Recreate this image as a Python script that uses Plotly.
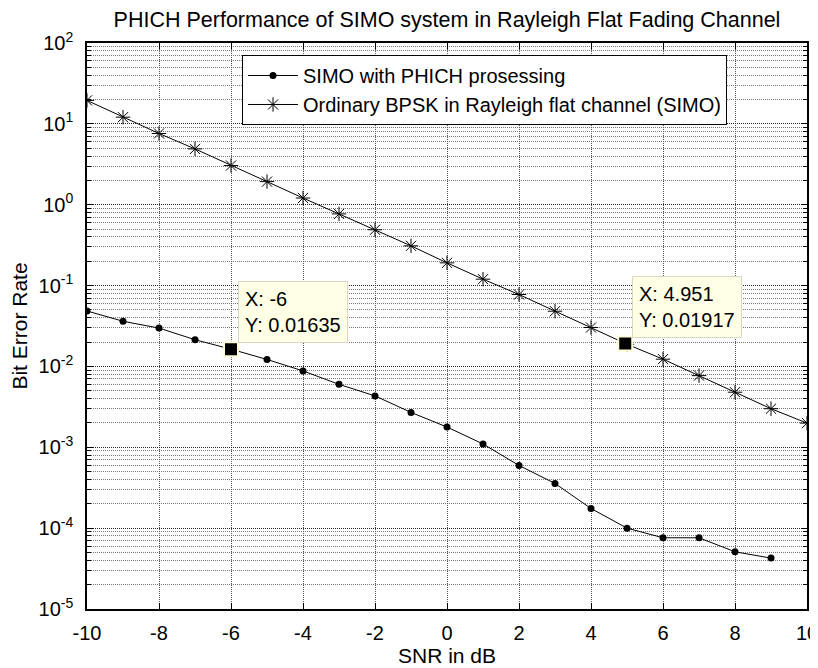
import math
import plotly.graph_objects as go

# ---- data ----
snr_phich = [-10, -9, -8, -7, -6, -5, -4, -3, -2, -1, 0, 1, 2, 3, 4, 5, 6, 7, 8, 9]
ber_phich = [0.0485, 0.0362, 0.0298, 0.0214, 0.01635, 0.0122, 0.0088, 0.0060, 0.00432, 0.00270,
             0.00178, 0.00110, 0.000596, 0.000357, 0.000175, 0.000100, 0.0000760, 0.0000760,
             0.0000510, 0.0000426]

snr_bpsk = [-10, -9, -8, -7, -6, -5, -4, -3, -2, -1, 0, 1, 2, 3, 4, 5, 6, 7, 8, 9, 10]
ber_bpsk = [19.5, 12.1, 7.6, 4.9, 3.05, 1.93, 1.21, 0.77, 0.49, 0.31, 0.191, 0.120, 0.0775,
            0.0482, 0.0303, 0.0188, 0.0123, 0.0077, 0.0048, 0.0030, 0.00199]

cursor_x = [-6, 4.951]
cursor_y = [0.01635, 0.01917]
cursor_text = ["X: -6<br>Y: 0.01635", "X: 4.951<br>Y: 0.01917"]

x_ticks = [-10, -8, -6, -4, -2, 0, 2, 4, 6, 8, 10]
x_ticktext = ["-10", "-8", "-6", "-4", "-2", "0", "2", "4", "6", "8", "10"]
y_ticks = [1e-5, 1e-4, 1e-3, 1e-2, 1e-1, 1e0, 1e1, 1e2]
y_ticktext = ["10<sup>-5</sup>", "10<sup>-4</sup>", "10<sup>-3</sup>", "10<sup>-2</sup>",
              "10<sup>-1</sup>", "10<sup>0</sup>", "10<sup>1</sup>", "10<sup>2</sup>"]

series_names = ["SIMO with PHICH prosessing", "Ordinary BPSK in Rayleigh flat channel (SIMO)"]
title_text = "PHICH Performance of SIMO system in Rayleigh Flat Fading Channel"
x_title = "SNR in dB"
y_title = "Bit Error Rate"

FONT = "Liberation Sans, Arial, sans-serif"

# The page body keeps its default 8px margin, so the figure is sized/offset to compensate.
W, H = 810, 660

fig = go.Figure()
fig.add_trace(go.Scatter(
    x=snr_phich, y=ber_phich, mode="lines+markers", name=series_names[0],
    line=dict(color="black", width=1),
    marker=dict(symbol="circle", size=7, color="black"),
))
fig.add_trace(go.Scatter(
    x=snr_bpsk, y=ber_bpsk, mode="lines+markers", name=series_names[1],
    line=dict(color="black", width=1),
    marker=dict(symbol="asterisk-open", size=12, color="black", line=dict(color="black", width=1)),
))
fig.add_trace(go.Scatter(
    x=cursor_x, y=cursor_y, mode="markers", showlegend=False,
    marker=dict(symbol="square", size=14, color="black", line=dict(color="#ffffd8", width=2)),
))

for cx, cy, ct in zip(cursor_x, cursor_y, cursor_text):
    fig.add_annotation(
        x=cx, y=math.log10(cy), xref="x", yref="y", text=ct, showarrow=False,
        xanchor="left", yanchor="bottom", xshift=7, yshift=6, align="left",
        bgcolor="#ffffe6", bordercolor="#d8d8c8", borderwidth=1, borderpad=6,
        font=dict(family=FONT, size=20, color="black"),
    )

grid_dash = "1px,1px"
fig.update_xaxes(
    range=[-10, 10], tickmode="array", tickvals=x_ticks, ticktext=x_ticktext,
    ticks="inside", ticklen=6, tickcolor="black", mirror="allticks",
    showline=True, linecolor="black", linewidth=1.5,
    showgrid=True, gridcolor="#555555", griddash=grid_dash, gridwidth=1,
    zeroline=False, ticklabelstandoff=5, automargin=False, ticklabeloverflow="allow",
    tickfont=dict(family=FONT, size=20, color="black"),
    title=dict(text=x_title, font=dict(family=FONT, size=21, color="black"), standoff=0),
)
fig.update_yaxes(
    type="log", range=[-5, 2], tickmode="array", tickvals=y_ticks, ticktext=y_ticktext,
    ticks="inside", ticklen=6, tickcolor="black", mirror="allticks",
    showline=True, linecolor="black", linewidth=1.5,
    showgrid=True, gridcolor="#222222", griddash=grid_dash, gridwidth=1,
    zeroline=False, ticklabelstandoff=8, automargin=False, ticklabeloverflow="allow",
    minor=dict(dtick="D1", ticks="inside", ticklen=4, tickcolor="black",
               showgrid=True, gridcolor="#777777", griddash=grid_dash, gridwidth=1),
    tickfont=dict(family=FONT, size=20, color="black"),
    title=dict(text=y_title, font=dict(family=FONT, size=21, color="black"), standoff=6),
)

fig.update_layout(
    width=W, height=H,
    margin=dict(l=79, r=11, t=35, b=59),
    paper_bgcolor="white", plot_bgcolor="white",
    font=dict(family=FONT, size=20, color="black"),
    title=dict(text=title_text, x=0.5, xref="paper", xanchor="center",
               y=1 - 11 / H, yref="container", yanchor="middle",
               font=dict(family=FONT, size=21.5, color="black")),
    legend=dict(x=0.2153, y=0.9788, xanchor="left", yanchor="top",
                bgcolor="white", bordercolor="black", borderwidth=1,
                font=dict(family=FONT, size=20, color="black"),
                itemwidth=50, tracegroupgap=0),
    showlegend=True,
)

fig.write_html("out.html")
